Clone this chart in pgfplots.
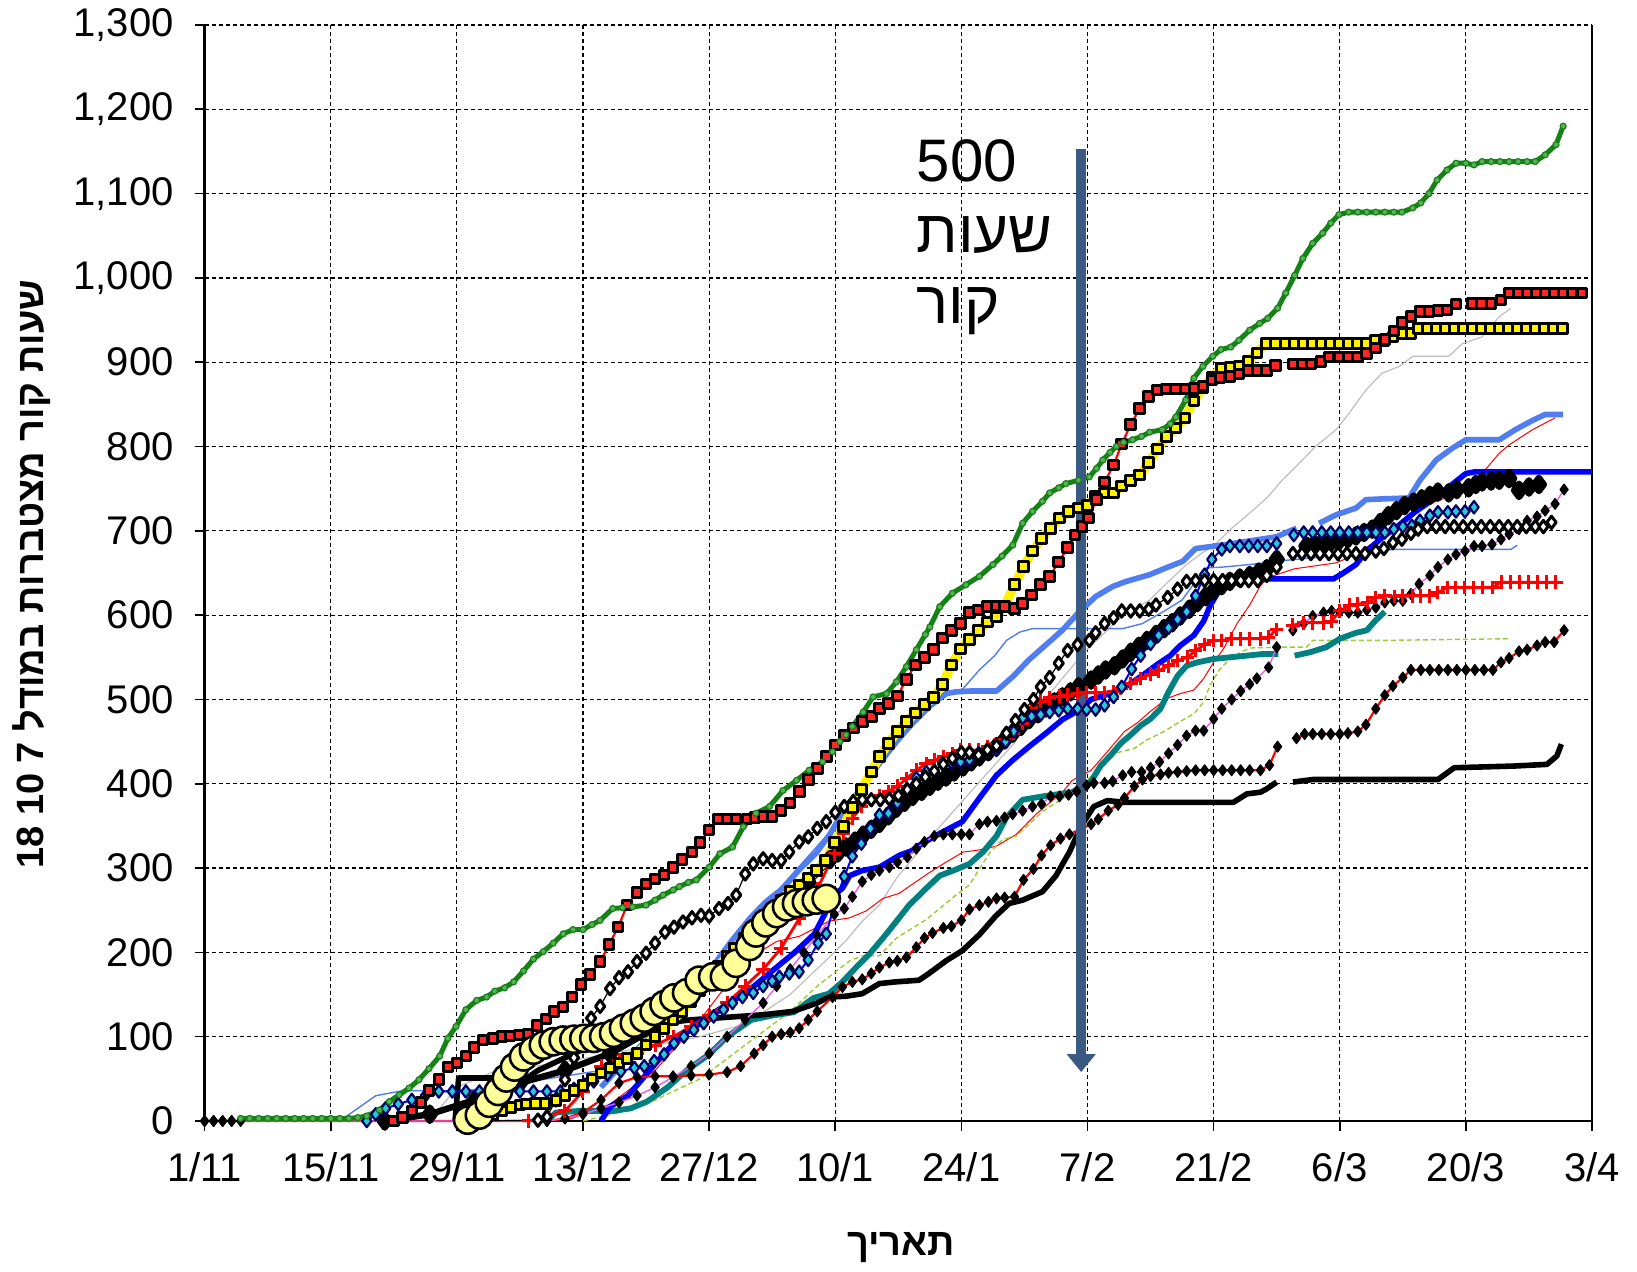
\documentclass[border=0pt]{standalone}
\usepackage{fontspec}
\setmainfont{Liberation Sans}
\newfontfamily\hebfont[Script=Hebrew]{Liberation Sans}
\TeXXeTstate=1
\usepackage{pgfplots}
\pgfplotsset{compat=1.18}
\usetikzlibrary{arrows.meta}
\definecolor{cG}{RGB}{20,130,20}
\definecolor{cGm}{RGB}{90,175,90}
\definecolor{cLB}{RGB}{80,125,240}
\definecolor{cTL}{RGB}{0,128,128}
\definecolor{cYG}{RGB}{154,205,50}
\definecolor{cGR}{RGB}{190,190,190}
\definecolor{cDM}{RGB}{235,90,235}
\definecolor{cCY}{RGB}{40,200,215}
\definecolor{cKC}{RGB}{255,255,153}
\definecolor{cAR}{RGB}{59,90,130}
\begin{document}
\begin{tikzpicture}
\useasboundingbox (-102.3pt,-75.5pt) rectangle (716.2pt,560.5pt);
\begin{axis}[
  width=693.7pt, height=548pt, scale only axis,
  xmin=0, xmax=154, ymin=0, ymax=1300,
  clip=false, unbounded coords=jump,
  xtick={0,14,...,154},
  xticklabels={1/11,15/11,29/11,13/12,27/12,10/1,24/1,7/2,21/2,6/3,20/3,3/4},
  ytick={0,100,...,1300},
  axis x line*=bottom, axis y line*=box,
  xtick pos=bottom, ytick pos=left,
  tick align=outside, major tick length=5pt,
  axis line style={line width=1.3pt, -},
  tick style={black, line width=0.8pt},
  grid=major,
  major grid style={black, line width=0.6pt, dash pattern=on 2pt off 1.5pt},
  /pgf/number format/assume math mode=true,
  /pgf/number format/1000 sep={,},
  tick label style={font=\fontsize{20}{24}\selectfont},
  xticklabel style={yshift=-7pt},
  yticklabel style={xshift=-7pt},
  line join=round,
]
% gray thin
\addplot[cGR, line width=0.6pt] coordinates {(25,0)(28,40)(32,58)(36,64)(40,70)(45,80)(50,90)(55,100)(60,115)(65,150)(69.3,194)(71.2,214)(73,237)(74.9,256)(76.8,288)(78.5,310)(80,330)(82.5,360)(85,390)(87.5,420)(90,450)(91.2,472)(93.8,507)(96,535)(98,560)(100,580)(102,600)(104.9,618)(107,640)(109,660)(110.5,672)(112.3,685)(114,703)(116,721)(118,740)(119.6,760)(121.5,780)(123.3,800)(125.6,820)(127,839)(128.9,867)(130.7,887)(132.6,895)(134.1,907)(138.1,907)(139.6,922)(141.8,930)(143.7,954)(145,964)};
% thin red
\addplot[red, line width=0.5pt] coordinates {(40,0)(45,20)(50,60)(55,120)(60,190)(63.5,213)(66,219)(69.3,237)(71.6,241)(73.4,249)(75.3,264)(77.1,270)(79,284)(80.5,295)(82.3,307)(84.2,319)(85.7,321)(87.9,326)(90.1,340)(92.3,364)(95.3,391)(96.3,404)(98.4,416)(100.2,438)(102.1,462)(103.5,472)(105,486)(106.8,501)(108.3,507)(109.8,511)(110.9,525)(112,544)(113.1,560)(114.6,590)(116,612)(117.2,635)(118.1,645)(121,655)(125.6,662)(127.8,672)(130.8,694)(133.4,716)(136,732)(139.2,745)(141.8,768)(143.7,792)(144.8,802)(147.4,820)(149.9,834)};
% yellow-green dashed
\addplot[cYG, line width=0.7pt, dash pattern=on 2.5pt off 1.5pt] coordinates {(42,0)(46,10)(50,25)(55,50)(60,90)(65,130)(68,160)(71.6,190)(73,196)(74.9,196)(76.8,217)(78.6,229)(80.1,239)(81.6,252)(83.4,268)(84.9,280)(86,299)(87.2,319)(88.6,334)(90.1,338)(93,367)(95.3,383)(96.8,391)(98.5,410)(100,428)(101,436)(103.2,442)(104.6,452)(106.5,462)(108.3,474)(109.8,483)(110.9,497)(111.6,517)(112.7,536)(113.8,548)(115,556)(116,561)(119.4,562)(122.3,562)(123,570)(130.4,570)(144.8,572)};
% thin blue
\addplot[cLB, line width=0.7pt] coordinates {(15,0)(17,15)(19,30)(22,36)(25,36)(28.9,36)(32,40)(38,50)(44,60)(50,100)(55,160)(60,230)(65,290)(70,350)(75,425)(79.7,493)(81.6,500)(82.5,505)(84.2,513)(86,535)(87.7,552)(89,570)(90.5,580)(91.9,584)(96.4,584)(101.9,584)(104.1,590)(106.7,606)(108.5,618)(110,640)(111.2,656)(113,657)(116,660)(120,665)(125,670)(130,676)(132,678)(140,678)(145,678)(145.7,683)};
% teal
\addplot[cTL, line width=2.9pt] coordinates {(38,0)(39,10)(41.7,12)(45.4,12)(47.3,15)(49.1,23)(51.4,40)(53.5,60)(56,79)(58,100)(60.7,120)(63,125)(65.4,129)(67.6,146)(69.3,151)(70.8,165)(72.3,182)(73.8,198)(75.3,217)(76.8,237)(78.2,256)(80.1,276)(81.6,291)(83.1,297)(84.9,305)(86.4,319)(87.9,338)(89,360)(90.8,381)(93,385)(96.3,390)(98.4,403)(99.5,422)(100.6,434)(101.7,448)(102.8,458)(103.9,469)(105,477)(106.1,489)(107,509)(108,528)(109,540)(110.2,544)(112,548)(113.8,550)(115.7,552)(117.5,554)(119.2,554)(120.1,nan)(121,552)(122.7,556)(124.5,562)(126,572)(127.8,579)(129,582)(130,594)(131,604)};
% black plain thick
\addplot[black, line width=2.8pt] coordinates {(27.8,0)(28.2,51)(35.8,51)(37,60)(40,75)(43,90)(46,105)(50,115)(54,120)(58,123)(62,126)(65.3,130)(68,140)(69.3,147)(71.2,148)(73,151)(74.9,163)(76.7,165)(79.3,167)(80.4,175)(82.3,190)(84.1,202)(86,221)(87.8,243)(89.3,258)(90.8,262)(93,272)(94.5,291)(96,319)(97.3,350)(98.7,373)(100.2,380)(102.1,378)(114.2,378)(115.7,388)(117.2,390)(117.9,394)(119,402)(119.9,nan)(120.8,402)(123,405)(136.9,405)(138.7,419)(145.3,421)(149,423)(150.1,433)(150.6,447)};
% light blue thick
\addplot[cLB, line width=2.8pt] coordinates {(44,40)(47,75)(50,105)(53,140)(55.5,170)(57.2,195)(58.6,215)(60.5,240)(62.3,260)(64.2,276)(66,298)(67.9,318)(69.4,340)(71.2,373)(73.1,397)(74.9,424)(76.8,450)(78.6,472)(80.5,492)(82.3,507)(83.4,509)(85,510)(87.9,510)(89.7,527)(91.5,547)(93.4,565)(95.2,582)(97,603)(98.9,622)(100.8,634)(102.3,640)(104.9,648)(106.7,656)(108.6,664)(110,679)(112.2,682)(114.1,685)(116,688)(117.8,691)(119,693)(120.5,700)(121.2,703)(122.5,nan)(123.7,709)(125.6,719)(127.8,727)(128.9,737)(131,738)(133.7,739)(134.9,760)(136.7,784)(138.5,798)(140,808)(143.7,808)(145.5,820)(147.4,831)(148.8,838)(150.8,838)};
% pure blue thick
\addplot[blue, line width=2.8pt] coordinates {(44,0)(45,17)(47,30)(49,55)(51,80)(53.8,110)(56,125)(58.4,141)(61,160)(63,178)(65.5,200)(67.7,222)(69.3,255)(70.1,270)(70.8,276)(71.6,291)(73,297)(74.9,301)(77.1,315)(78.6,321)(79,325)(81.6,341)(84.1,355)(86,383)(87.9,410)(89.7,428)(91.5,444)(93.4,460)(95.2,476)(97,487)(98.4,500)(100.2,506)(102.1,514)(104.3,530)(105.8,542)(107.2,552)(108.3,564)(109.8,576)(110.9,593)(111.6,611)(112.7,631)(113.5,637)(116,643)(125.3,643)(126.4,650)(127.8,660)(128.8,674)(130.7,692)(132.5,706)(134.3,722)(136.2,736)(138,751)(140,768)(141,770)(154,770)};
% black diamonds, red line
\addplot[red, line width=1.1pt, mark=diamond*, mark size=2.7pt, mark options={solid, draw=black, fill=black, line width=0.6pt}] coordinates {(0,0)(1,0)(2,0)(3,0)(38,0)(40,3)(42,10)(44,25)(46,45)(48,52)(50,53)(52,53)(54,54)(56,55)(58,58)(59.5,65)(61,80)(62,90)(63,100)(64,103)(65,105)(66,110)(67,120)(68,130)(69.7,147)(70.8,159)(71.9,165)(73,168)(74,175)(74.9,182)(76,188)(76.9,190)(77.9,194)(79,206)(79.9,217)(80.8,223)(82,229)(82.9,231)(84,238)(84.9,251)(86,256)(87,260)(87.9,264)(88.8,265)(89.9,266)(90.9,286)(92,299)(92.9,315)(93.9,327)(95,335)(96,340)(98.4,352)(99.2,358)(100.3,368)(101.4,375)(102.1,383)(103.2,397)(104.1,405)(105,409)(106.1,411)(107,413)(108,414)(109,415)(110,416)(111,416)(112,416)(113,416)(114,416)(115,416)(116,416)(117.2,416)(118.2,422)(119.1,444)(120.1,nan)(121.2,454)(122.1,459)(123,459)(124,459)(125,459)(126,459)(126.9,460)(128,462)(128.9,470)(130,489)(131,505)(131.9,516)(133,526)(133.9,535)(135,535)(136,535)(137,535)(138,535)(139,535)(140,535)(141,535)(142,535)(143,535)(143.9,544)(144.8,549)(145.9,557)(146.8,559)(147.9,564)(148.8,568)(149.8,568)(150.9,582)};
% black diamonds, magenta line
\addplot[cDM, line width=0.7pt, mark=diamond*, mark size=2.7pt, mark options={solid, draw=black, fill=black, line width=0.6pt}] coordinates {(0,0)(1,0)(2,0)(3,0)(4,0)(38,0)(40,3)(42,8)(44,15)(46,22)(48,30)(50,40)(52,52)(54,65)(56,80)(58,100)(60,120)(62,140)(63.5,160)(65,180)(66.5,200)(68,220)(69.9,245)(71,252)(71.9,266)(73,284)(74,292)(74.9,297)(76,301)(76.9,307)(78,313)(79,323)(79.9,331)(81,338)(82,340)(83,340)(84,340)(84.9,340)(86,352)(86.9,355)(87.9,356)(88.8,360)(89.7,364)(90.8,368)(91.9,373)(92.9,376)(93.9,385)(94.9,385)(95.9,387)(96.8,391)(97.9,398)(98.7,401)(99.9,401)(100.8,403)(101.9,410)(102.9,414)(104,414)(105,419)(106,426)(107,436)(108,446)(109,457)(110,463)(110.9,463)(112,477)(112.9,489)(114,500)(115,510)(116,518)(116.8,525)(118.1,538)(119,562)(119.9,nan)(120.8,582)(122,590)(123,599)(124.2,603)(125.1,605)(126,604)(127,603)(128,603)(129,606)(130,609)(131,615)(132,617)(133,617)(133.9,625)(134.8,637)(136,647)(136.9,657)(138,666)(138.9,672)(139.9,676)(140.9,682)(141.8,682)(142.9,684)(143.9,690)(144.8,696)(145.9,702)(146.8,712)(147.9,717)(148.8,724)(149.9,732)(150.9,749)};
% black thick with filled diamonds
\addplot[black, line width=3.2pt, mark=diamond*, mark size=3.3pt, mark options={solid, black}] coordinates {(20,0)(25,8)(30,25)(35,45)(40,60)(45,80)(50,110)(55,160)(60,210)(65,262)(67,283)(69.4,310)(70.3,318)(71.2,325)(72.2,332)(73.1,339)(74,346)(74.9,353)(75.9,362)(76.8,371)(77.7,378)(78.6,385)(79.6,391)(80.5,397)(81.4,403)(82.3,408)(83.2,414)(84.2,420)(85.1,426)(86,432)(87,438)(87.9,444)(88.8,452)(89.7,460)(90.6,468)(91.5,476)(92.5,483)(93.4,490)(94.3,497)(95.2,503)(96.1,509)(97,515)(98.4,523)(99.2,529)(100,535)(101,540)(101.9,548)(102.8,556)(103.7,563)(104.6,570)(105.6,577)(106.5,584)(107.4,591)(108.3,599)(109.3,607)(110.2,615)(111.1,622)(112,629)(112.9,635)(113.8,640)(114.9,644)(116,647)(117,651)(117.9,655)(119,666)(120.2,nan)(122.3,682)(123.2,684)(124.1,686)(125,687)(125.9,688)(126.9,691)(127.8,694)(128.7,698)(129.6,702)(130.5,710)(131.4,718)(132.3,724)(133.2,730)(134.2,734)(135.1,738)(136,742)(136.9,746)(138.1,745)(139,749)(140.3,751)(141.1,755)(141.8,758)(142.8,759)(143.7,760)(144.8,762)(145.9,748)(147,752)(148.1,755)};
% red with plus marks
\addplot[red, line width=1.4pt, mark=+, mark size=3.4pt, mark options={solid, red, line width=1.5pt}] coordinates {(36,0)(40,12)(42,35)(44,65)(46,72)(48,80)(50,90)(52,100)(54,112)(56,125)(58,140)(60,160)(62,180)(64,205)(66,240)(68,275)(69.9,317)(70.9,341)(71.9,359)(72.9,373)(74,381)(74.9,386)(75.9,391)(76.9,397)(77.9,406)(79,416)(80.1,424)(81,428)(82,432)(83,436)(83.9,440)(84.9,440)(85.9,440)(86.9,444)(87.8,446)(88.8,452)(89.8,460)(90.8,472)(91.8,490)(92.8,498)(93.8,502)(94.9,504)(95.8,505)(96.9,507)(97.9,508)(98.9,508)(99.9,508)(100.9,509)(101.7,513)(102.8,519)(103.9,525)(105,530)(105.9,534)(107,540)(108,546)(109.1,550)(110,558)(111,565)(112,570)(112.9,570)(114,572)(115,572)(116,572)(117.2,572)(118.1,574)(119,583)(119.9,nan)(120.8,588)(122,591)(123,591)(124.2,591)(125.1,593)(126,605)(127.1,612)(128,613)(129.1,615)(130,621)(131,623)(132.1,622)(133,623)(134.1,623)(135,623)(136,623)(136.9,627)(138,633)(138.9,633)(139.9,633)(140.9,633)(141.8,633)(143,633)(143.9,639)(145,639)(146,639)(147,639)(148,639)(149,639)(150,639)};
% cyan diamonds, blue line
\addplot[blue, line width=1pt, mark=diamond*, mark size=3.1pt, mark options={solid, draw=black!60!blue, fill=cCY, line width=1.1pt}] coordinates {(18,0)(19,8)(20.1,15)(21.5,20)(23,25)(24.5,30)(26,35)(27.5,35)(29,35)(30.5,35)(32,35)(33.5,35)(35,35)(36.5,35)(38,35)(39.5,35)(41,38)(42.2,43)(43.2,47)(44.7,55)(46.2,59)(47.7,63)(48.8,65)(49.9,71)(51,79)(52.1,92)(53.2,100)(54.3,108)(55.4,116)(56.5,124)(57.6,132)(58.6,140)(59.7,147)(60.9,152)(62,160)(63,166)(63.8,171)(64.9,175)(66,177)(67,191)(68.1,211)(69,222)(70,260)(71,290)(71.9,314)(72.9,329)(73.9,347)(74.9,363)(75.9,365)(76.9,377)(77.9,393)(79,407)(80.1,414)(81,414)(81.9,424)(82.9,425)(83.9,426)(84.9,428)(85.9,436)(86.9,438)(87.9,440)(88.9,450)(89.8,462)(90.8,478)(91.8,480)(92.8,482)(93.8,485)(94.8,487)(95.8,489)(96.9,489)(97.9,488)(98.9,488)(99.9,493)(100.9,503)(101.8,515)(102.9,536)(103.9,552)(105,566)(105.9,576)(107,585)(108,595)(109,604)(110,623)(111,648)(111.8,666)(112.9,678)(113.8,682)(114.9,682)(115.9,682)(116.9,682)(117.9,682)(119,685)(120,nan)(120.9,695)(122,698)(123,698)(124,698)(125,698)(126,698)(127,698)(128,698)(129,698)(130,698)(131,698)(132,702)(133,705)(134,706)(134.9,712)(136,718)(136.9,722)(138,722)(138.9,723)(139.9,723)(140.9,728)};
% black line with open diamonds
\addplot[black, line width=0.6pt, mark=diamond*, mark size=3.1pt, mark options={solid, draw=black, fill=white, line width=1.5pt}] coordinates {(30,0)(37,1)(38,5)(39,25)(40,49)(41,75)(42,100)(42.9,122)(43.9,136)(45,157)(46,170)(47,177)(48,189)(49,199)(50,211)(51.1,224)(52.1,230)(53.1,236)(54.1,241)(55.1,244)(56,243)(57.1,252)(58.1,258)(59,268)(60,293)(60.9,305)(62,311)(63,309)(64,309)(64.9,319)(66,331)(67,337)(68,347)(69,355)(70,366)(71,373)(72,379)(73,381)(74,381)(75,381)(76,382)(77,386)(78,393)(79,400)(80,408)(81,415)(82,423)(83,430)(84,437)(84.9,437)(85.9,434)(86.9,440)(87.9,445)(89,460)(90,475)(91,488)(92,500)(92.8,515)(93.8,526)(94.8,543)(95.8,558)(96.9,565)(98.2,570)(98.9,579)(99.9,590)(100.9,597)(101.8,605)(102.8,605)(103.8,605)(104.8,607)(105.6,612)(106.9,621)(108,631)(109,640)(110,641)(111,641)(112,641)(113,641)(114,641)(115,641)(115.9,641)(116.9,641)(117.9,647)(119,657)(119.9,nan)(120.8,673)(121.8,673)(122.8,673)(123.8,673)(124.8,673)(125.8,673)(126.8,673)(127.8,673)(128.8,673)(130,676)(130.9,679)(131.9,686)(132.9,690)(133.9,697)(134.7,702)(135.7,705)(136.7,705)(137.7,705)(138.7,705)(139.7,705)(140.7,705)(141.7,705)(142.7,705)(143.7,705)(144.7,705)(145.7,705)(146.7,705)(147.7,705)(148.6,705)(149.5,710)};
% yellow thick with squares
\addplot[yellow, line width=4.6pt, mark=square*, mark size=2.4pt, mark options={solid, draw=black, fill=yellow, line width=1.5pt}] coordinates {(30,0)(31,3)(32,8)(33,12)(34,16)(35,19)(35.7,20)(36.7,21)(37.8,21)(39,24)(40,30)(41,36)(42,42)(43,50)(44,57)(45,63)(46,69)(46.9,74)(48,80)(49,90)(50,100)(51,110)(52,120)(53,130)(54,142)(55,155)(56,170)(57,183)(58,195)(58.8,205)(59.9,217)(61,229)(62,240)(63,252)(64,262)(65,272)(66,280)(67,288)(67.9,297)(68.9,309)(69.9,330)(70.9,349)(71.9,372)(72.9,393)(74,414)(74.9,432)(75.9,448)(76.9,462)(77.9,474)(78.9,484)(79.9,494)(80.9,502)(81.9,518)(82.9,541)(83.9,560)(84.9,571)(85.9,582)(86.9,592)(87.9,598)(88.8,611)(89.9,636)(90.9,658)(91.9,676)(92.9,691)(93.9,703)(94.9,715)(95.9,723)(97,727)(98,730)(98.9,741)(99.9,745)(100.9,745)(101.8,753)(102.8,760)(103.8,766)(104.8,781)(105.8,797)(106.8,812)(107.8,822)(108.8,834)(109.8,854)(110.8,870)(111.8,882)(112.8,893)(113.8,894)(114.8,895)(115.8,901)(116.8,911)(117.8,922)(118.9,922)(119.9,922)(120.9,922)(121.9,922)(122.9,922)(123.9,922)(124.9,922)(125.9,922)(126.9,922)(127.9,922)(128.9,922)(129.9,926)(130.9,926)(131.9,930)(132.9,934)(133.9,934)(134.7,940)(135.7,940)(136.7,940)(137.7,940)(138.7,940)(139.7,940)(140.7,940)(141.7,940)(142.7,940)(143.7,940)(144.7,940)(145.7,940)(146.7,940)(147.7,940)(148.7,940)(149.7,940)(150.7,940)};
% red line with squares
\addplot[red, line width=1.1pt, mark=square*, mark size=2.4pt, mark options={solid, draw=black, fill=red!85!white, line width=1.5pt}] coordinates {(21,0)(22,4)(23,12)(24,22)(24.9,36)(26,49)(27,64)(28,69)(29,77)(29.9,87)(30.9,96)(32,98)(33,100)(33.9,101)(34.9,102)(35.9,103)(36.9,113)(37.9,121)(38.8,130)(39.8,135)(40.8,147)(41.8,162)(42.8,174)(43.9,189)(44.9,209)(45.9,230)(46.9,256)(48,271)(49,281)(50,287)(51,292)(52,301)(53,310)(54.1,319)(55,330)(56,345)(57,358)(58,358)(59,358)(60.2,358)(61.1,360)(62,361)(63,361)(64,368)(65,377)(66,391)(67,405)(68,418)(69,432)(70,446)(71,457)(72,466)(73,474)(74,480)(74.9,489)(75.9,495)(76.9,504)(77.9,524)(78.9,541)(79.9,550)(80.9,559)(81.9,573)(82.9,582)(83.9,590)(84.9,603)(85.9,606)(86.9,610)(87.9,611)(88.8,610)(89.9,608)(90.8,614)(91.8,624)(92.8,636)(93.8,646)(94.8,663)(95.8,680)(96.6,695)(97.4,705)(98.1,715)(99,737)(99.9,758)(100.9,778)(101.8,803)(102.8,826)(103.8,845)(104.8,859)(105.8,867)(106.8,868)(107.8,868)(108.8,868)(109.8,869)(110.8,872)(111.8,879)(112.7,882)(113.8,883)(114.8,886)(115.8,890)(116.8,890)(117.9,890)(118.9,896)(119.8,nan)(120.8,898)(121.8,898)(122.8,898)(123.9,901)(124.8,906)(125.9,906)(127,906)(128,906)(129,910)(130,917)(131,927)(132,937)(132.9,947)(133.9,954)(134.9,960)(135.9,960)(136.9,961)(137.9,962)(138.9,969)(139.8,nan)(140.7,970)(141.7,970)(142.8,970)(143.9,974)(144.8,982)(145.8,982)(146.8,982)(147.8,982)(148.8,982)(149.8,982)(150.8,982)(151.8,982)(152.9,982)};
% green
\addplot[cG, line width=2.5pt, mark=*, mark size=1.5pt, mark options={solid, draw=cG, fill=cGm, line width=0.6pt}] coordinates {(4,3)(5,3)(6,3)(7,3)(8,3)(9,3)(10,3)(11,3)(12,3)(13,3)(14,3)(15,3)(16,3)(17,4)(18,6)(19.4,13)(20.5,23)(21.6,31)(22.7,39)(23.8,49)(24.9,62)(26.1,77)(27,98)(27.9,112)(29,132)(30.2,143)(31.3,147)(32.2,154)(33.3,158)(34.3,165)(35.4,178)(36.5,192)(37.6,201)(38.7,211)(39.8,222)(40.9,227)(42,227)(43,233)(43.9,238)(45.3,252)(46.4,253)(47.5,254)(49,256)(50,262)(50.9,268)(52,274)(52.7,278)(53.7,283)(54.6,286)(56,301)(57.2,317)(58.6,325)(59.8,349)(61.2,365)(62.7,373)(64.2,392)(65.7,404)(67.1,416)(68.6,426)(69.7,438)(70.5,450)(71.2,458)(71.9,468)(73.1,485)(74.2,503)(75.7,507)(76.8,521)(77.9,539)(79,559)(80,577)(80.5,586)(81.6,610)(83,626)(84.5,636)(86,646)(87.5,660)(88.5,670)(89.7,683)(90.8,709)(91.9,723)(93,735)(93.8,745)(94.8,751)(95.6,756)(97,760)(98.2,764)(99,774)(99.7,784)(100.5,793)(101.2,800)(102,805)(103,808)(104,812)(104.9,817)(106.3,820)(107.2,827)(107.8,835)(108.9,855)(109.8,881)(110.8,895)(111.9,907)(112.8,915)(113.9,918)(114.8,926)(116,938)(117.1,946)(118,952)(119.1,964)(120,982)(121,1003)(121.9,1023)(123,1041)(124.1,1053)(125,1065)(125.9,1075)(127,1078)(128,1078)(129,1078)(130,1078)(131,1078)(132,1078)(132.9,1078)(134.1,1083)(135,1089)(135.9,1100)(136.8,1116)(137.9,1128)(138.9,1136)(140,1136)(140.9,1134)(141.8,1138)(142.8,1138)(143.8,1138)(144.8,1138)(145.8,1138)(146.8,1138)(147.7,1138)(148.8,1146)(150,1158)(150.8,1180)};
% khaki circles
\addplot[only marks, mark=*, mark size=6.8pt, mark options={draw=black, fill=cKC, line width=1.3pt}] coordinates {(29.2,1)(30.5,7)(31.6,21)(32.6,35)(33.5,51)(34.4,64)(35.4,76)(36.5,84)(37.6,90)(38.7,94)(39.8,96)(41,97)(42.1,98)(43.2,98)(44.3,100)(45.4,104)(46.5,110)(47.7,116)(48.8,122)(49.9,130)(51,138)(52.1,146)(53.5,152)(54.9,167)(56.4,171)(57.7,171)(59,187)(60.5,207)(61.2,223)(62.3,235)(63.5,246)(64.6,254)(65.7,258)(66.8,260)(67.9,262)(69,264)};
% arrow and annotation
\draw[cAR, line width=5.2pt, -{Triangle[width=14pt,length=9pt]}] (axis cs:97.3,1153) -- (axis cs:97.3,58);
\node[anchor=north west, inner sep=0pt, align=left, font=\fontsize{30}{35.5}\selectfont] at (axis cs:79,1165) {500\\{\hebfont\beginR שעות\endR}\\{\hebfont\beginR קור\endR}};
\node[rotate=90, font=\hebfont\bfseries\fontsize{19}{23}\selectfont] at ([xshift=-86.7pt]rel axis cs:0,0.499) {\beginR שעות קור מצטברות במודל 7 10 18\endR};
\node[font=\hebfont\bfseries\fontsize{19}{23}\selectfont] at ([yshift=-63.3pt]rel axis cs:0.502,0) {\beginR תאריך\endR};
\end{axis}
\end{tikzpicture}
\end{document}
